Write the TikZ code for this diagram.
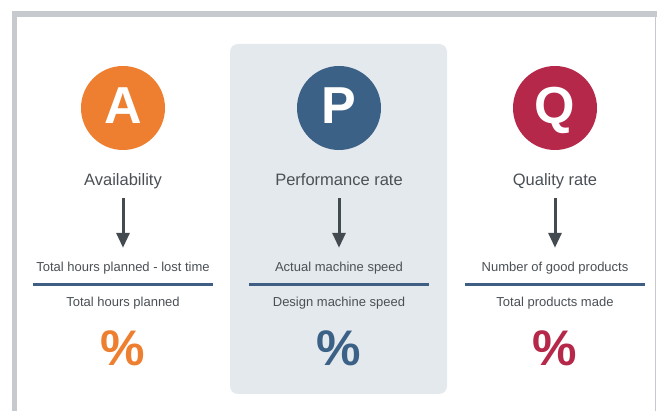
\documentclass[tikz,border=0pt]{standalone}
\usepackage{fontspec}
\setmainfont{Liberation Sans}
\usetikzlibrary{arrows.meta}
\definecolor{frame}{HTML}{C6CACF}
\definecolor{panel}{HTML}{E4E9EE}
\definecolor{ink}{HTML}{4B5055}
\definecolor{arrowc}{HTML}{434B51}
\definecolor{rule}{HTML}{3E5F83}
\definecolor{availc}{HTML}{EE7F30}
\definecolor{perfc}{HTML}{3B6186}
\definecolor{qualc}{HTML}{B5284A}
\tikzset{
  badge/.style={circle, minimum size=84pt, inner sep=0pt},
  letter/.style={anchor=base, inner sep=0pt, text=white,
    font=\fontsize{52}{52}\bfseries\selectfont},
  title/.style={anchor=base, inner sep=0pt, text height=12pt, text depth=4pt,
    text=ink, font=\fontsize{16.5}{18}\selectfont},
  frac/.style={anchor=base, inner sep=0pt, text height=9.5pt, text depth=3pt,
    text=ink, font=\fontsize{13}{14}\selectfont},
  pct/.style={anchor=base, inner sep=0pt, font=\fontsize{50}{50}\bfseries\selectfont},
  down/.style={draw=arrowc, line width=3pt,
    -{Triangle[width=13pt,length=15pt]}, shorten <=8pt, shorten >=14.5pt},
  fracline/.style={draw=rule, line width=3pt}
}
\begin{document}
\begin{tikzpicture}[x=1pt,y=-1pt]
\useasboundingbox (0,0) rectangle (657,411);
\fill[white] (0,0) rectangle (657,411);
% outer frame
\fill[frame] (12,11) rectangle (657,17);
\fill[frame] (12,11) rectangle (17,411);
\fill[frame] (654.5,17) rectangle (656,411);
% highlighted middle column
\fill[panel, rounded corners=8pt] (230,44) rectangle (447,394);

% column A
\node[badge, fill=availc] (cA) at (123,108) {};
\node[letter] (lA) at (123,124) {A};
\node[title] (tA) at (123,186) {Availability};
\node[frac] (nA) at (123,272) {Total hours planned - lost time};
\node[frac] (dA) at (123,306.5) {Total hours planned};
\node[pct, text=availc] (pA) at (123,366) {\%};
\coordinate (rA1) at (33,285);
\coordinate (rA2) at (213,285);
\draw[down] (tA.south) -- (nA.north);
\draw[fracline] (rA1) -- (rA2);

% column P
\node[badge, fill=perfc] (cP) at (339,108) {};
\node[letter] (lP) at (339,124) {P};
\node[title] (tP) at (339,186) {Performance rate};
\node[frac] (nP) at (339,272) {Actual machine speed};
\node[frac] (dP) at (339,306.5) {Design machine speed};
\node[pct, text=perfc] (pP) at (339,366) {\%};
\coordinate (rP1) at (249,285);
\coordinate (rP2) at (429,285);
\draw[down] (tP.south) -- (nP.north);
\draw[fracline] (rP1) -- (rP2);

% column Q
\node[badge, fill=qualc] (cQ) at (555,108) {};
\node[letter] (lQ) at (555,124) {Q};
\node[title] (tQ) at (555,186) {Quality rate};
\node[frac] (nQ) at (555,272) {Number of good products};
\node[frac] (dQ) at (555,306.5) {Total products made};
\node[pct, text=qualc] (pQ) at (555,366) {\%};
\coordinate (rQ1) at (465,285);
\coordinate (rQ2) at (645,285);
\draw[down] (tQ.south) -- (nQ.north);
\draw[fracline] (rQ1) -- (rQ2);
\end{tikzpicture}
\end{document}
